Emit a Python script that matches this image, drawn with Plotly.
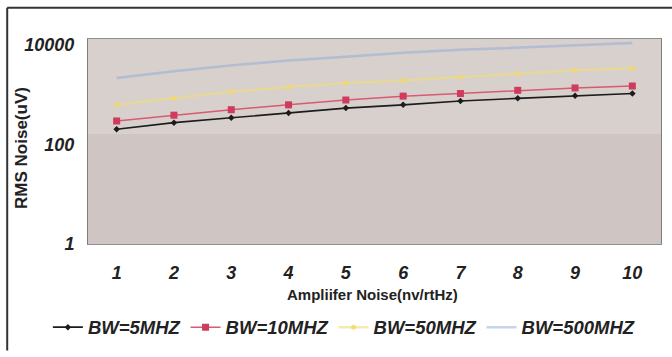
import plotly.graph_objects as go

# amplifier noise (nV/rtHz)
amp_noise = [1, 2, 3, 4, 5, 6, 7, 8, 9, 10]

# RMS noise (uV), one list per bandwidth
bw_5mhz = [203, 275, 344, 431, 539, 626, 748, 845, 954, 1057]
bw_10mhz = [297, 388, 500, 626, 783, 937, 1057, 1227, 1367, 1496]
bw_50mhz = [626, 845, 1142, 1429, 1711, 1923, 2270, 2600, 3110, 3400]
bw_500mhz = [2170, 2970, 3890, 4870, 5830, 6980, 7990, 8940, 10000, 10900]

series_names = ["BW=5MHZ", "BW=10MHZ", "BW=50MHZ", "BW=500MHZ"]

fig = go.Figure()
fig.add_trace(go.Scatter(x=amp_noise, y=bw_5mhz, name=series_names[0], mode="lines+markers",
                         line=dict(color="#1c1c1c", width=1.6), marker=dict(symbol="diamond", size=5)))
fig.add_trace(go.Scatter(x=amp_noise, y=bw_10mhz, name=series_names[1], mode="lines+markers",
                         line=dict(color="#d85a73", width=1.5), marker=dict(symbol="square", size=7, color="#cf3b5c")))
fig.add_trace(go.Scatter(x=amp_noise, y=bw_50mhz, name=series_names[2], mode="lines+markers",
                         line=dict(color="rgba(238,222,120,0.6)", width=2.5),
                         marker=dict(symbol="circle", size=5, color="rgba(245,215,100,0.8)")))
fig.add_trace(go.Scatter(x=amp_noise, y=bw_500mhz, name=series_names[3], mode="lines",
                         line=dict(color="rgba(140,170,215,0.5)", width=2.5)))

tick_font = dict(family="Liberation Sans, Arial", size=18, color="#222", weight="bold", style="italic")
title_font = dict(family="Liberation Sans, Arial", color="#222", weight="bold")

fig.update_xaxes(range=[0.5, 10.5], tickvals=amp_noise, ticks="", showgrid=False, zeroline=False,
                 showline=True, linecolor="#8f8f8f", mirror=True, tickfont=tick_font,
                 ticklabelstandoff=12)
fig.update_yaxes(type="log", range=[0, 4.12], tickvals=[1, 100, 10000], ticktext=["1", "100", "10000"],
                 ticks="", showgrid=False, showline=True, linecolor="#7d7d7d", mirror=True,
                 tickfont=tick_font, ticklabelstandoff=9)

fig.add_annotation(text="Ampliifer Noise(nv/rtHz)", xref="paper", yref="paper", x=0.497, y=-0.245,
                   xanchor="center", yanchor="middle", showarrow=False, font=dict(size=15, **title_font))
fig.add_annotation(text="RMS Noise(uV)", xref="paper", yref="paper", x=-0.115, y=0.469, textangle=-90,
                   xanchor="center", yanchor="middle", showarrow=False, font=dict(size=17, **title_font))

# lighter upper band of the plot area (as in the scanned original)
fig.add_shape(type="rect", xref="paper", yref="paper", x0=0, x1=1, y0=0.536, y1=1,
              fillcolor="#d8d0cc", line=dict(width=0), layer="below")

# outer frame of the original picture
fig.add_shape(type="line", xref="paper", yref="paper", x0=-0.141, x1=1.03, y0=1.152, y1=1.152,
              line=dict(color="#333", width=2))
fig.add_shape(type="line", xref="paper", yref="paper", x0=-0.141, x1=-0.141, y0=-0.52, y1=1.152,
              line=dict(color="#333", width=2))

fig.update_layout(
    width=672, height=357,
    margin=dict(l=88, r=11, t=39, b=107),
    paper_bgcolor="white", plot_bgcolor="#cfc5c2",
    showlegend=True,
    legend=dict(orientation="h", x=-0.07, xanchor="left", y=-0.408, yanchor="middle",
                font=dict(family="Liberation Sans, Arial", size=18.5, color="#222", weight="bold", style="italic"),
                bgcolor="rgba(0,0,0,0)"),
)

# drop the browser's default body margin so the figure sits at the page corner
fig.write_html("out.html", config={"displayModeBar": False},
               post_script="document.body.style.margin='0';")
